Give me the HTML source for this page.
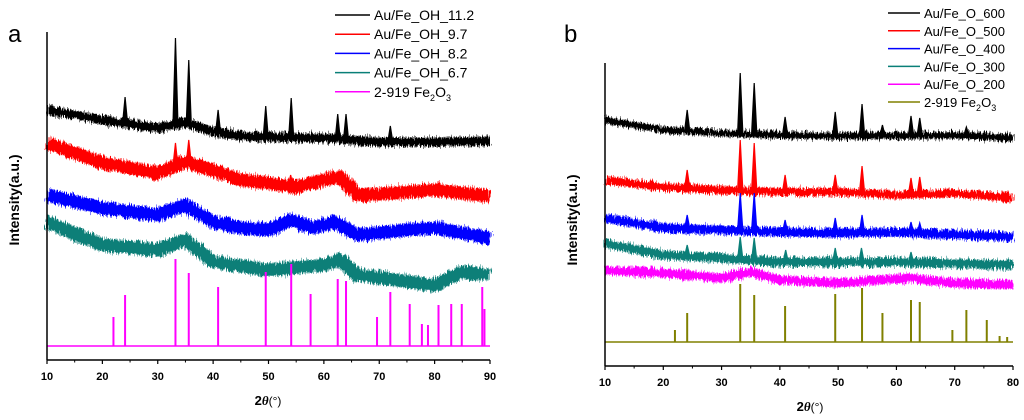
<!DOCTYPE html>
<html><head><meta charset="utf-8"><style>
body{margin:0;background:#fff;}
svg{display:block;font-family:"Liberation Sans",sans-serif;}
</style></head><body>
<svg id="chart" width="1024" height="420" viewBox="0 0 1024 420">
<defs>
<filter id="noisy" x="-5%" y="-30%" width="110%" height="160%">
<feTurbulence type="fractalNoise" baseFrequency="1.2 0.08" numOctaves="2" seed="3" result="t"/>
<feDisplacementMap in="SourceGraphic" in2="t" scale="10" xChannelSelector="R" yChannelSelector="G"/>
</filter>
</defs>
</svg>
<script>
// ---------- Panel a data (intensity in a.u.) ----------
const aTicks=[10,20,30,40,50,60,70,80,90];
const aBlackBase=[[10,250],[20,240],[30,232],[35,238],[40,228],[45,224],[50,223],[60,222],[70,218],[80,218],[90,219]];
const aBlackPeaks=[[24.1,263],[33.2,322],[35.6,300],[40.9,250],[49.5,254],[54.1,262],[62.5,246],[64.0,246],[72.0,234]];
const aRedBase=[[10,217],[20,197],[30,187],[35,198],[40,190],[45,180],[50,177],[55,173],[60,180],[63,183],[66,165],[70,166],[80,170],[90,164]];
const aRedPeaks=[[33.2,217],[35.6,220],[54.0,185]];
const aBlueBase=[[10,165],[20,152],[30,145],[35,155],[40,138],[45,132],[50,130],[54,140],[58,132],[62,138],[66,125],[75,130],[80,132],[90,122]];
const aBluePeaks=[];
const aTealBase=[[10,138],[20,115],[30,110],[35,120],[40,98],[50,90],[60,95],[63,100],[66,85],[80,75],[85,88],[90,85]];
const aTealPeaks=[];
const aRefPos=[22,24.1,33.2,35.6,40.9,49.5,54.1,57.6,62.5,64.0,69.6,72.0,75.5,77.7,78.8,80.7,83.0,84.9,88.6,89.0];
const aRefInt=[29,51,87,73,59,74,82,52,67,65,29,54,42,22,21,41,42,42,59,37];
// ---------- Panel b data ----------
const bTicks=[10,20,30,40,50,60,70,80];
const bBlackBase=[[10,246],[20,236],[30,233],[40,231],[50,230],[70,231],[80,228]];
const bBlackPeaks=[[24.1,256],[33.2,293],[35.6,283],[40.9,249],[49.5,254],[54.1,262],[57.6,241],[62.5,250],[64.0,248],[72.0,239]];
const bRedBase=[[10,186],[20,179],[30,176],[40,174],[50,174],[60,171],[70,173],[80,168]];
const bRedPeaks=[[24.1,196],[33.2,226],[35.6,223],[40.9,191],[49.5,191],[54.1,200],[62.5,188],[64.0,189]];
const bBlueBase=[[10,148],[20,138],[30,136],[40,134],[50,133],[60,134],[80,129]];
const bBluePeaks=[[24.1,151],[33.2,173],[35.6,173],[40.9,146],[49.5,148],[54.1,151],[62.5,144],[64.0,143]];
const bTealBase=[[10,123],[20,111],[30,108],[40,104],[60,104],[80,101]];
const bTealPeaks=[[24.1,121],[33.2,129],[35.6,128],[41.0,116],[49.5,118],[54.0,118],[62.5,114]];
const bMagBase=[[10,96],[20,93],[30,88],[35,94],[40,86],[50,83],[62,88],[70,83],[80,81]];
const bMagPeaks=[];
const bRefPos=[22,24.1,33.2,35.6,40.9,49.5,54.1,57.6,62.5,64.0,69.6,72.0,75.5,77.7,79.0];
const bRefInt=[12,29,58,47,36,48,54,29,42,40,12,32,22,6,5];

const NS="http://www.w3.org/2000/svg";
const svg=document.getElementById('chart');
function el(tag,attrs,parent,text){const e=document.createElementNS(NS,tag);for(const k in attrs)e.setAttribute(k,attrs[k]);if(text!==undefined)e.textContent=text;(parent||svg).appendChild(e);return e;}

function panel(cfg){
  const g=el('g',{});
  
  
  const sx=v=>cfg.x0+(v-cfg.xmin)/(cfg.xmax-cfg.xmin)*(cfg.x1-cfg.x0);
  const sy=v=>cfg.yb-v;
  cfg.series.forEach(s=>{
    const pts=s.base;
    const sg=el('g',{filter:'url(#noisy)'},g);
    
    
    el('path',{d:'M'+pts.map(p=>sx(p[0]).toFixed(1)+','+sy(p[1]).toFixed(1)).join('L'),fill:'none',stroke:s.color,'stroke-width':s.band,'stroke-linejoin':'round'},sg);
    const interp=x=>{for(let i=0;i<pts.length-1;i++){if(x>=pts[i][0]&&x<=pts[i+1][0]){const t=(x-pts[i][0])/(pts[i+1][0]-pts[i][0]);return pts[i][1]+t*(pts[i+1][1]-pts[i][1]);}}return pts[pts.length-1][1];};
    s.peaks.forEach(pk=>{
      const b=interp(pk[0]);
      const p=el('path',{d:`M${sx(pk[0]-0.45)},${sy(b)}L${sx(pk[0])},${sy(pk[1])}L${sx(pk[0]+0.45)},${sy(b)}Z`,fill:s.color,stroke:s.color,'stroke-width':1.2},g);
      
      
    });
  });
  const rb=el('line',{x1:cfg.x0,x2:cfg.x1,y1:cfg.refY,y2:cfg.refY,stroke:cfg.refColor,'stroke-width':1.5},g);
  
  
  cfg.refPos.forEach((p,i)=>{
    const l=el('line',{x1:sx(p),x2:sx(p),y1:cfg.refY,y2:cfg.refY-cfg.refInt[i]*cfg.refScale,stroke:cfg.refColor,'stroke-width':2},g);
    
    
  });
  const ya=el('line',{x1:cfg.x0,x2:cfg.x0,y1:cfg.ytop,y2:cfg.yb,stroke:'#000','stroke-width':1.5},g);
  
  
  const xa=el('line',{x1:cfg.x0,x2:cfg.x1,y1:cfg.yb,y2:cfg.yb,stroke:'#000','stroke-width':1.5},g);
  
  
  cfg.ticks.forEach((t,i)=>{
    el('line',{x1:sx(t),x2:sx(t),y1:cfg.yb,y2:cfg.yb+4,stroke:'#000','stroke-width':1.2},g);
    if(i<cfg.ticks.length-1)el('line',{x1:sx(t+5),x2:sx(t+5),y1:cfg.yb,y2:cfg.yb+2.5,stroke:'#000','stroke-width':1},g);
    const tl=el('text',{x:sx(t),y:cfg.yb+20,'text-anchor':'middle','font-size':11,'font-weight':'bold'},g,String(t));
    
    
  });
  const xt=el('text',{x:cfg.titleX,y:cfg.yb+45,'text-anchor':'middle','font-size':13,'font-weight':'bold'},g);
  xt.innerHTML='2<tspan font-family="Liberation Serif" font-style="italic">θ</tspan><tspan font-weight="normal" font-size="12">(°)</tspan>';
  
  
  const yt=el('text',{x:0,y:0,transform:`translate(${cfg.ylabX},${cfg.ylabY}) rotate(-90)`,'text-anchor':'middle','font-size':14,'font-weight':'bold'},g,'Intensity(a.u.)');
  
  
  const pl=el('text',{x:cfg.letterX,y:cfg.letterY,'font-size':24},g,cfg.id);
  
  
  cfg.legend.forEach((L,i)=>{
    const y=cfg.legY+i*cfg.legDy;
    const lg=el('g',{},g);
    
    
    el('line',{x1:cfg.legX,x2:cfg.legX+cfg.legW,y1:y,y2:y,stroke:L.c,'stroke-width':1.5},lg);
    const t=el('text',{x:cfg.legX+cfg.legW+4,y:y+5,'font-size':cfg.legFs},lg);
    if(L.sub){t.innerHTML='2-919 Fe<tspan font-size="9" dy="4">2</tspan><tspan dy="-4">O</tspan><tspan font-size="9" dy="4">3</tspan>';}
    else t.textContent=L.t;
  });
}

panel({id:'a',x0:47,x1:490,xmin:10,xmax:90,yb:360,ytop:32,ticks:aTicks,titleX:268,ylabX:19,ylabY:200,letterX:8,letterY:42,
  series:[
    {name:'au-fe-oh-11-2',color:'#000',base:aBlackBase,peaks:aBlackPeaks,band:9},
    {name:'au-fe-oh-9-7',color:'#f00',base:aRedBase,peaks:aRedPeaks,band:13},
    {name:'au-fe-oh-8-2',color:'#00f',base:aBlueBase,peaks:aBluePeaks,band:13},
    {name:'au-fe-oh-6-7',color:'#0a7f78',base:aTealBase,peaks:aTealPeaks,band:13}],
  refPos:aRefPos,refInt:aRefInt,refScale:1,refY:346,refColor:'#ff00ff',
  legX:335,legW:35,legY:15,legDy:19.2,legFs:14,
  legend:[{t:'Au/Fe_OH_11.2',c:'#000'},{t:'Au/Fe_OH_9.7',c:'#f00'},{t:'Au/Fe_OH_8.2',c:'#00f'},{t:'Au/Fe_OH_6.7',c:'#0a7f78'},{sub:1,c:'#ff00ff'}]});

panel({id:'b',x0:605,x1:1013,xmin:10,xmax:80,yb:366,ytop:63,ticks:bTicks,titleX:810,ylabX:577,ylabY:220,letterX:564,letterY:42,
  series:[
    {name:'au-fe-o-600',color:'#000',base:bBlackBase,peaks:bBlackPeaks,band:7},
    {name:'au-fe-o-500',color:'#f00',base:bRedBase,peaks:bRedPeaks,band:8},
    {name:'au-fe-o-400',color:'#00f',base:bBlueBase,peaks:bBluePeaks,band:9},
    {name:'au-fe-o-300',color:'#0a7f78',base:bTealBase,peaks:bTealPeaks,band:9},
    {name:'au-fe-o-200',color:'#ff00ff',base:bMagBase,peaks:bMagPeaks,band:9}],
  refPos:bRefPos,refInt:bRefInt,refScale:1,refY:342,refColor:'#808000',
  legX:888,legW:32,legY:13,legDy:17.8,legFs:13,
  legend:[{t:'Au/Fe_O_600',c:'#000'},{t:'Au/Fe_O_500',c:'#f00'},{t:'Au/Fe_O_400',c:'#00f'},{t:'Au/Fe_O_300',c:'#0a7f78'},{t:'Au/Fe_O_200',c:'#ff00ff'},{sub:1,c:'#808000'}]});
</script>
</body></html>
